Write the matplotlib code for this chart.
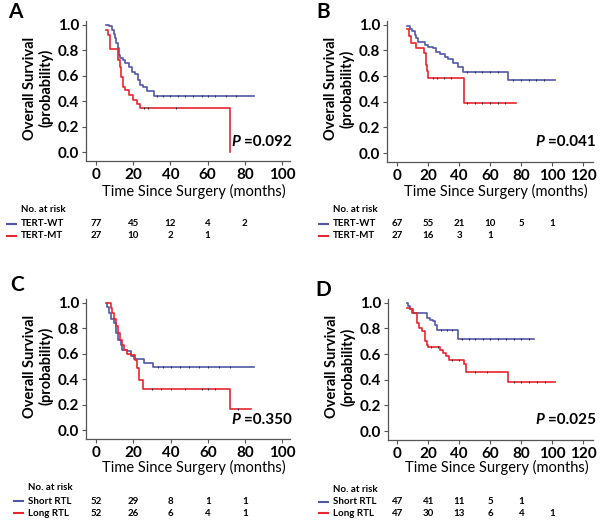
import numpy as np
import matplotlib
matplotlib.use("Agg")
import matplotlib.pyplot as plt
from matplotlib.transforms import blended_transform_factory

plt.rcParams['font.family'] = ['Lato', 'DejaVu Sans']

BLUE = '#5257a8'
RED = '#e8262e'

# ---- data ----
# panel A: TERT-WT vs TERT-MT
a_wt_t = [5.5, 6.8, 8.6, 9.5, 10.4, 10.9, 11.6, 12.1, 13.0, 14.5, 15.7, 17.5, 19.3, 21.1, 22.3, 23.8, 25.2, 27.3, 31.3, 85]
a_wt_s = [1.0, 0.99, 0.96, 0.93, 0.895, 0.86, 0.82, 0.76, 0.74, 0.72, 0.70, 0.67, 0.63, 0.61, 0.57, 0.53, 0.51, 0.48, 0.44, 0.44]
a_mt_t = [5.5, 6.2, 7.7, 11.7, 12.7, 13.4, 14.3, 15.7, 17.5, 19.8, 21.9, 23.8, 72]
a_mt_s = [0.96, 0.92, 0.81, 0.725, 0.67, 0.59, 0.515, 0.49, 0.45, 0.41, 0.38, 0.345, 0.0]
a_wt_cens = [33, 36, 40, 44, 48, 52, 57, 60, 64, 70, 75]
a_mt_cens = [26, 28, 43]

# panel B: TERT-WT vs TERT-MT
b_wt_t = [6.5, 8.2, 9.9, 11.4, 12.5, 13.5, 17.8, 20, 23.2, 25.4, 27.5, 30.8, 32.9, 36.1, 39.4, 42.6, 71.6, 101.7]
b_wt_s = [0.99, 0.97, 0.95, 0.92, 0.90, 0.87, 0.845, 0.83, 0.82, 0.79, 0.77, 0.75, 0.73, 0.70, 0.675, 0.636, 0.566, 0.566]
b_mt_t = [6.5, 7.7, 9.2, 12.5, 17.2, 18.5, 19.4, 20, 43.2, 76.6]
b_mt_s = [0.966, 0.91, 0.857, 0.82, 0.78, 0.69, 0.64, 0.585, 0.39, 0.39]
b_wt_cens = [45, 50, 55, 60, 65, 75, 80, 85, 90, 95]
b_mt_cens = [23, 26, 30, 35, 45, 50, 55, 60, 65, 70]

# panel C: Short RTL vs Long RTL
c_sh_t = [5.6, 5.9, 6.8, 8.2, 9.5, 10.9, 11.6, 13.1, 14, 16.3, 18.8, 20.3, 25.6, 30.6, 85]
c_sh_s = [1.0, 0.97, 0.92, 0.87, 0.84, 0.76, 0.71, 0.67, 0.63, 0.62, 0.58, 0.56, 0.53, 0.495, 0.495]
c_lo_t = [5.0, 7.7, 8.6, 9.5, 10.4, 11.6, 12.7, 14, 15.2, 16.7, 18.5, 21.1, 22, 22.9, 25.3, 71.9, 83]
c_lo_s = [1.0, 0.96, 0.92, 0.87, 0.82, 0.76, 0.71, 0.67, 0.63, 0.60, 0.59, 0.55, 0.49, 0.395, 0.32, 0.163, 0.163]
c_sh_cens = [33, 36, 40, 45, 50, 55, 60, 66, 72]
c_lo_cens = [30, 35, 40, 48, 57, 60, 64, 76]

# panel D: Short RTL vs Long RTL
d_sh_t = [6.5, 7.1, 8.2, 9.2, 18.9, 21.1, 22.8, 24.3, 25.4, 39.4, 88.4]
d_sh_s = [1.0, 0.974, 0.95, 0.92, 0.883, 0.87, 0.857, 0.83, 0.787, 0.72, 0.72]
d_lo_t = [6.5, 8.2, 9.9, 12.9, 14.2, 15.7, 17.8, 18.9, 20, 27.5, 29.2, 31.4, 33.5, 43, 44.3, 71.6, 101.7]
d_lo_s = [0.96, 0.95, 0.92, 0.84, 0.805, 0.78, 0.70, 0.675, 0.657, 0.636, 0.61, 0.585, 0.553, 0.52, 0.46, 0.38, 0.38]
d_sh_cens = [28, 32, 35, 42, 46, 50, 55, 60, 65, 70, 75, 80, 85]
d_lo_cens = [22, 26, 35, 40, 50, 58, 75, 80, 85, 90, 95]

# numbers at risk
a_labels = ['TERT-WT', 'TERT-MT']
a_risk = [[77, 45, 12, 4, 2], [27, 10, 2, 1]]
b_labels = ['TERT-WT', 'TERT-MT']
b_risk = [[67, 55, 21, 10, 5, 1], [27, 16, 3, 1]]
c_labels = ['Short RTL', 'Long RTL']
c_risk = [[52, 29, 8, 1, 1], [52, 26, 6, 4, 1]]
d_labels = ['Short RTL', 'Long RTL']
d_risk = [[47, 41, 11, 5, 1], [47, 30, 13, 6, 4, 1]]

p_values = ['0.092', '0.041', '0.350', '0.025']

W, H = 600, 527
fig = plt.figure(figsize=(6, 5.27), dpi=100)


def px(x, y):
    return x / W, 1 - y / H


def km_panel(rect, xlim, xmax, curves, letter, letter_xy, pval, p_xy,
             xlabel_y, risk_labels, risk, risk_x, risk_y):
    left, right, top, bottom = rect
    ax = fig.add_axes([left / W, 1 - bottom / H, (right - left) / W, (bottom - top) / H])
    for t, s, cens, col in curves:
        ax.step(t, s, where='post', color=col, lw=1.2)
        # censor ticks sit on the curve
        idx = np.searchsorted(t, cens, side='right') - 1
        ax.plot(cens, np.array(s)[idx], ls='none', marker='|', ms=1.8,
                mew=0.7, color='#2a2a50')
    ax.set_xlim(*xlim)
    ax.set_ylim(-0.07, 1.03)
    ax.set_xticks(np.arange(0, xmax + 1, 20))
    ax.set_yticks(np.arange(0, 1.01, 0.2))
    ax.set_yticklabels(['%.1f' % v for v in np.arange(0, 1.01, 0.2)])
    for sp in ['top', 'right']:
        ax.spines[sp].set_visible(False)
    for sp in ['left', 'bottom']:
        ax.spines[sp].set_color('#555555')
        ax.spines[sp].set_linewidth(0.9)
    ax.tick_params(length=3, width=0.8, color='#555555', labelsize=11, pad=2)
    for lab in ax.get_xticklabels() + ax.get_yticklabels():
        lab.set_fontweight('bold')
    ax.set_ylabel('Overall Survival\n(probability)', fontsize=10.5, fontweight='bold',
                  linespacing=1.15)
    ax.yaxis.label.set_va('center')
    ax.yaxis.set_label_coords(-48 / (right - left), 0.52)

    fx, fy = px(*letter_xy)
    fig.text(fx, fy, letter, fontsize=15, fontweight='bold', ha='center', va='center')
    fx, fy = px(*p_xy)
    ptxt = fig.text(fx, fy, '=' + pval, fontsize=11, fontweight='bold',
                    ha='right', va='center')
    ax.annotate('P ', xy=(0, 0.5), xycoords=ptxt, fontsize=11, fontweight='bold',
                fontstyle='italic', ha='right', va='center')

    tr = blended_transform_factory(ax.transData, fig.transFigure)
    xc = (left + right) / 2 + 6
    fx, fy = px(xc, xlabel_y)
    fig.text(fx, fy, 'Time Since Surgery (months)', fontsize=10.5, ha='center', va='center')

    fx, fy = px(risk_x, risk_y[0])
    fig.text(fx, fy, 'No. at risk', fontsize=7, fontweight='bold', va='center')
    for row, (lab, vals, col) in enumerate(zip(risk_labels, risk, [BLUE, RED])):
        yy = risk_y[row + 1]
        fig.add_artist(plt.Line2D([(risk_x - 14) / W, (risk_x - 5) / W],
                                  [1 - yy / H, 1 - yy / H], color=col, lw=1.5))
        fx, fy = px(risk_x, yy)
        fig.text(fx, fy, lab, fontsize=7, fontweight='bold', va='center')
        for i, v in enumerate(vals):
            fig.text(i * 20, fy, str(v), transform=tr, fontsize=7, fontweight='bold',
                     ha='center', va='center')
    return ax


km_panel((86, 290, 21, 161), (-5.4, 104.3), 100,
         [(a_wt_t, a_wt_s, a_wt_cens, BLUE), (a_mt_t, a_mt_s, a_mt_cens, RED)],
         'A', (15, 12), p_values[0], (292, 142), 191,
         a_labels, a_risk, 21, (210, 224, 236))

km_panel((387, 593, 21, 162), (-6.5, 126.5), 120,
         [(b_wt_t, b_wt_s, b_wt_cens, BLUE), (b_mt_t, b_mt_s, b_mt_cens, RED)],
         'B', (323, 12), p_values[1], (596, 142), 191,
         b_labels, b_risk, 333, (210, 224, 236))

km_panel((86, 290, 299, 439), (-5.5, 104.2), 100,
         [(c_sh_t, c_sh_s, c_sh_cens, BLUE), (c_lo_t, c_lo_s, c_lo_cens, RED)],
         'C', (17, 285), p_values[2], (292, 420), 467,
         c_labels, c_risk, 28, (487, 501, 513))

km_panel((388, 593, 299, 440), (-6.0, 126.3), 120,
         [(d_sh_t, d_sh_s, d_sh_cens, BLUE), (d_lo_t, d_lo_s, d_lo_cens, RED)],
         'D', (323, 290), p_values[3], (596, 420), 467,
         d_labels, d_risk, 333, (490, 502, 513))

fig.savefig('out.png', dpi=100)
